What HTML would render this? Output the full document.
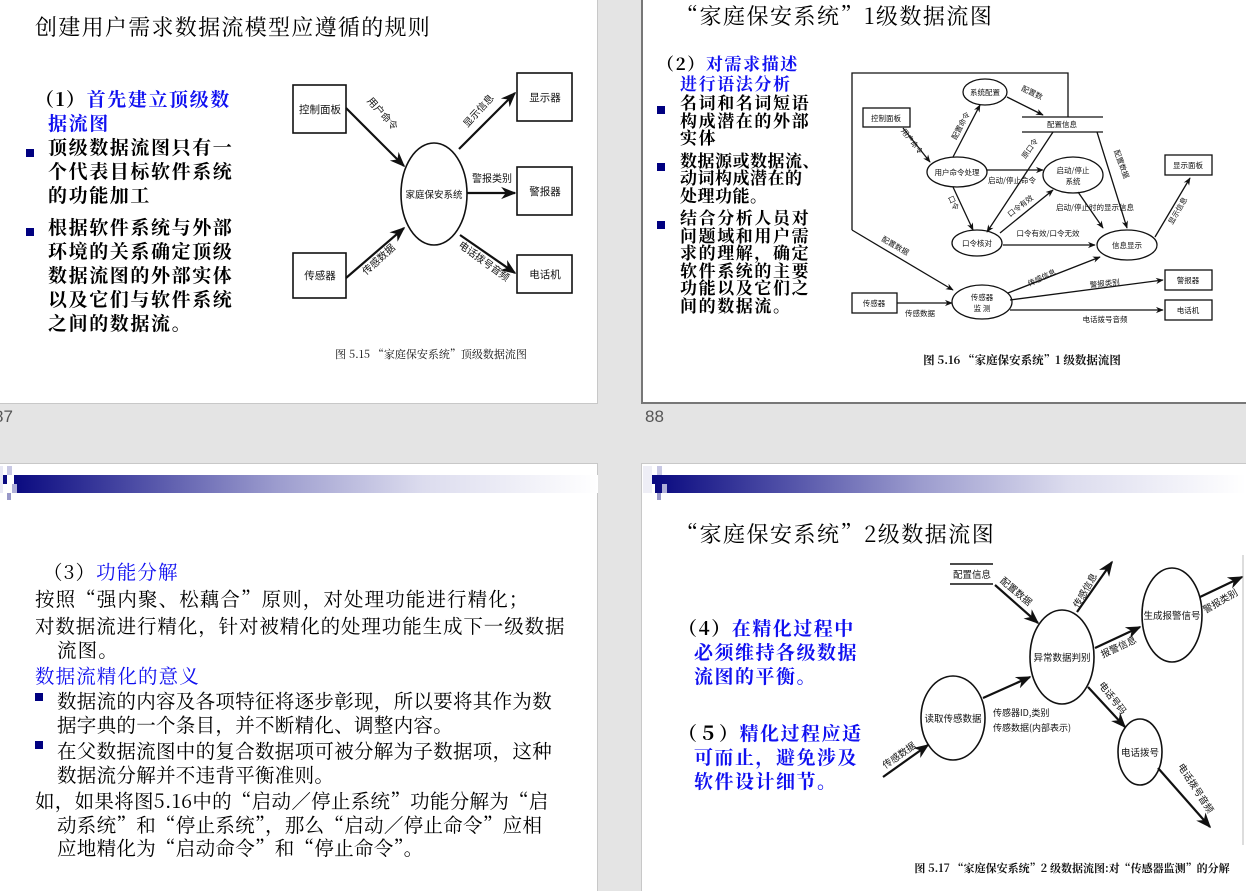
<!DOCTYPE html>
<html><head><meta charset="utf-8">
<style>
*{margin:0;padding:0;box-sizing:border-box}
body{width:1246px;height:891px;background:#e4e4e4;position:relative;overflow:hidden;font-family:"Noto Serif CJK SC","Liberation Serif",serif;}
.s{position:absolute;background:#fff}
.t{position:absolute;white-space:nowrap;color:#000}
.b{color:#1010f0}
.bul{position:absolute;width:8px;height:8px;background:#000080}
svg{position:absolute;left:0;top:0}
svg text{font-family:"Noto Sans CJK SC","WenQuanYi Zen Hei",sans-serif;fill:#111}
svg text.cap{font-family:"Noto Serif CJK SC","Liberation Serif",serif}
</style></head><body>

<div class="s" style="left:0;top:0;width:598px;height:404px;border-right:1px solid #c8c8c8;border-bottom:1px solid #c8c8c8"></div>
<div class="s" style="left:641px;top:0;width:605px;height:404px;border-left:2px solid #777;border-bottom:2px solid #777"></div>
<div class="s" style="left:0;top:463px;width:598px;height:428px;border-right:1px solid #c8c8c8;border-top:1px solid #c8c8c8"></div>
<div class="s" style="left:641px;top:463px;width:605px;height:428px;border-left:1px solid #c8c8c8;border-top:1px solid #c8c8c8"></div>

<div class="t" style="left:-6px;top:407px;font-family:'Liberation Sans',sans-serif;font-size:17px;color:#555">87</div>
<div class="t" style="left:645px;top:407px;font-family:'Liberation Sans',sans-serif;font-size:17px;color:#555">88</div>

<div style="position:absolute;left:14px;top:475px;width:584px;height:18px;background:linear-gradient(90deg,#0a0a80,#4a4aa4 20%,#9c9cce 45%,#dcdcee 70%,#fff)"></div>
<div style="position:absolute;left:3px;top:475px;width:4px;height:9px;background:#0a0a80"></div>
<div style="position:absolute;left:7px;top:466px;width:5px;height:9px;background:#c8c8e4"></div>
<div style="position:absolute;left:12px;top:484px;width:5px;height:9px;background:#b0b0d8"></div>
<div style="position:absolute;left:7px;top:493px;width:4px;height:7px;background:#9898c8"></div>
<div style="position:absolute;left:0;top:466px;width:3px;height:27px;background:#e8e8f4"></div>

<div style="position:absolute;left:655px;top:475px;width:591px;height:18px;background:linear-gradient(90deg,#0a0a80,#4a4aa4 20%,#9c9cce 45%,#dcdcee 70%,#fff)"></div>
<div style="position:absolute;left:652px;top:475px;width:5px;height:9px;background:#0a0a80"></div>
<div style="position:absolute;left:657px;top:466px;width:5px;height:9px;background:#c8c8e4"></div>
<div style="position:absolute;left:662px;top:484px;width:5px;height:9px;background:#b0b0d8"></div>
<div style="position:absolute;left:657px;top:493px;width:4px;height:7px;background:#9898c8"></div>
<div style="position:absolute;left:643px;top:466px;width:9px;height:27px;background:#eeeef6"></div>

<!-- top-left text -->
<div class="t" style="left:35px;top:12px;font-size:22px;letter-spacing:1.3px;line-height:30px">创建用户需求数据流模型应遵循的规则</div>
<div style="position:absolute;left:35px;top:87px;font-size:19px;font-weight:bold;line-height:24px;letter-spacing:1.6px;width:230px">
<div>（1）<span class="b">首先建立顶级数</span></div>
<div style="padding-left:13px" class="b">据流图</div>
<div style="padding-left:13px">顶级数据流图只有一<br>个代表目标软件系统<br>的功能加工</div>
<div style="padding-left:13px;margin-top:8px">根据软件系统与外部<br>环境的关系确定顶级<br>数据流图的外部实体<br>以及它们与软件系统<br>之间的数据流。</div>
</div>
<div class="bul" style="left:26px;top:149px"></div>
<div class="bul" style="left:26px;top:228px"></div>

<!-- top-right text -->
<div class="t" style="left:676px;top:1px;font-size:22px;letter-spacing:1.5px;line-height:30px">“家庭保安系统”1级数据流图</div>
<div style="position:absolute;left:657px;top:53px;font-size:17px;font-weight:bold;line-height:17.5px;letter-spacing:1.6px;width:190px">
<div style="line-height:20px">（2）<span class="b">对需求描述</span></div>
<div class="b" style="padding-left:23px;line-height:20px">进行语法分析</div>
<div style="padding-left:23px">名词和名词短语<br>构成潜在的外部<br>实体</div>
<div style="padding-left:23px;margin-top:5px;letter-spacing:0.5px">数据源或数据流、<br>动词构成潜在的<br>处理功能。</div>
<div style="padding-left:23px;margin-top:5px">结合分析人员对<br>问题域和用户需<br>求的理解，确定<br>软件系统的主要<br>功能以及它们之<br>间的数据流。</div>
</div>
<div class="bul" style="left:657px;top:106px"></div>
<div class="bul" style="left:657px;top:163px"></div>
<div class="bul" style="left:657px;top:221px"></div>

<!-- bottom-left text -->
<div style="position:absolute;left:35px;top:559px;font-size:19.5px;line-height:25px;width:580px;letter-spacing:1.1px">
<div style="padding-left:8px">（3）<span class="b">功能分解</span></div>
<div style="margin-top:2px">按照“强内聚、松藕合”原则，对处理功能进行精化；</div>
<div style="margin-top:2px;letter-spacing:0.9px">对数据流进行精化，针对被精化的处理功能生成下一级数据</div>
<div style="padding-left:22px;line-height:22px">流图。</div>
<div class="b" style="margin-top:3px">数据流精化的意义</div>
<div style="padding-left:22px;letter-spacing:0.3px">数据流的内容及各项特征将逐步彰现，所以要将其作为数</div>
<div style="padding-left:22px;line-height:23px;letter-spacing:0.3px">据字典的一个条目，并不断精化、调整内容。</div>
<div style="padding-left:22px;margin-top:2px;letter-spacing:0.3px">在父数据流图中的复合数据项可被分解为子数据项，这种</div>
<div style="padding-left:22px;line-height:23px;letter-spacing:0.3px">数据流分解并不违背平衡准则。</div>
<div style="margin-top:2px;letter-spacing:0.3px">如，如果将图5.16中的“启动／停止系统”功能分解为“启</div>
<div style="padding-left:22px;line-height:23px;letter-spacing:0.3px">动系统”和“停止系统”，那么“启动／停止命令”应相</div>
<div style="padding-left:22px;line-height:23px;letter-spacing:0.3px">应地精化为“启动命令”和“停止命令”。</div>
</div>
<div class="bul" style="left:35px;top:693px"></div>
<div class="bul" style="left:35px;top:741px"></div>

<!-- bottom-right text -->
<div class="t" style="left:676px;top:519px;font-size:22px;letter-spacing:1.5px;line-height:30px">“家庭保安系统”2级数据流图</div>
<div style="position:absolute;left:678px;top:616px;font-size:19px;font-weight:bold;line-height:24px;letter-spacing:1.5px">
<div>（4）<span class="b">在精化过程中</span></div>
<div class="b" style="padding-left:16px">必须维持各级数据<br>流图的平衡。</div>
<div style="margin-top:33px">（５）<span class="b">精化过程应适</span></div>
<div class="b" style="padding-left:16px">可而止，避免涉及<br>软件设计细节。</div>
</div>

<svg width="1246" height="891" viewBox="0 0 1246 891">
<defs>
<marker id="a" viewBox="0 0 10 10" refX="9" refY="5" markerWidth="7" markerHeight="7" orient="auto"><path d="M0,1 L10,5 L0,9 L3,5z" fill="#111"/></marker>
<marker id="m" viewBox="0 0 10 10" refX="9" refY="5" markerWidth="6" markerHeight="6" orient="auto"><path d="M0,1 L10,5 L0,9 L3,5z" fill="#111"/></marker>
</defs>

<g stroke="#111" fill="none" stroke-width="1.6">
<rect x="293" y="85" width="53" height="48"/>
<rect x="293" y="253" width="53" height="45"/>
<rect x="517" y="73" width="55" height="48"/>
<rect x="517" y="167" width="55" height="48"/>
<rect x="517" y="255" width="55" height="38"/>
<ellipse cx="434" cy="194" rx="33" ry="51"/>
<g stroke-width="2.2" marker-end="url(#a)">
<line x1="346" y1="108" x2="404" y2="166"/>
<line x1="346" y1="278" x2="404" y2="228"/>
<line x1="459" y1="149" x2="515" y2="93"/>
<line x1="467" y1="193" x2="515" y2="193"/>
<line x1="460" y1="235" x2="515" y2="273"/>
</g></g>
<g font-size="10.5" text-anchor="middle">
<text x="320" y="113">控制面板</text>
<text x="320" y="279">传感器</text>
<text x="545" y="101">显示器</text>
<text x="545" y="195">警报器</text>
<text x="545" y="278">电话机</text>
<text x="434" y="198" font-size="9.5">家庭保安系统</text>
<text transform="translate(380,116) rotate(48)" font-size="10">用户命令</text>
<text transform="translate(381,262) rotate(-42)" font-size="10">传感数据</text>
<text transform="translate(481,113) rotate(-48)" font-size="10">显示信息</text>
<text x="492" y="182" font-size="10">警报类别</text>
<text transform="translate(482,264) rotate(36)" font-size="10">电话拨号音频</text>
<text class="cap" x="431" y="358" font-size="11">图 5.15 “家庭保安系统”顶级数据流图</text>
</g>

<g stroke="#111" fill="none" stroke-width="1.3">
<rect x="863" y="108" width="47" height="19"/>
<rect x="1165" y="155" width="47" height="20"/>
<rect x="1165" y="270" width="47" height="20"/>
<rect x="1165" y="300" width="47" height="20"/>
<rect x="852" y="293" width="45" height="20"/>
<ellipse cx="985" cy="92" rx="22" ry="13"/>
<ellipse cx="957" cy="172" rx="30" ry="15"/>
<ellipse cx="1073" cy="175" rx="30" ry="18"/>
<ellipse cx="977" cy="243" rx="25" ry="13"/>
<ellipse cx="1127" cy="245" rx="30" ry="15"/>
<ellipse cx="982" cy="302" rx="30" ry="17"/>
<line x1="1022" y1="117" x2="1103" y2="117"/>
<line x1="1022" y1="132" x2="1103" y2="132"/>
<polyline points="1068,117 1068,73 852,73 852,230"/>
<g marker-end="url(#m)">
<line x1="852" y1="230" x2="953" y2="290"/>
<line x1="903" y1="128" x2="930" y2="162"/>
<line x1="953" y1="157" x2="980" y2="105"/>
<line x1="1007" y1="97" x2="1043" y2="115"/>
<line x1="987" y1="170" x2="1043" y2="170"/>
<line x1="1053" y1="132" x2="987" y2="232"/>
<line x1="953" y1="187" x2="973" y2="230"/>
<line x1="1000" y1="233" x2="1053" y2="190"/>
<line x1="1003" y1="245" x2="1095" y2="245"/>
<line x1="1078" y1="192" x2="1103" y2="228"/>
<line x1="1097" y1="132" x2="1127" y2="228"/>
<line x1="1155" y1="237" x2="1190" y2="178"/>
<line x1="897" y1="303" x2="952" y2="303"/>
<line x1="1008" y1="293" x2="1100" y2="257"/>
<line x1="1010" y1="300" x2="1163" y2="280"/>
<line x1="1010" y1="310" x2="1163" y2="310"/>
</g></g>
<g font-size="7.5" text-anchor="middle">
<text x="886" y="121">控制面板</text>
<text x="1188" y="168">显示面板</text>
<text x="1188" y="283">警报器</text>
<text x="1188" y="313">电话机</text>
<text x="874" y="306">传感器</text>
<text x="985" y="95">系统配置</text>
<text x="1062" y="127">配置信息</text>
<text x="957" y="175">用户命令处理</text>
<text x="1073" y="173">启动/停止</text>
<text x="1073" y="184">系统</text>
<text x="977" y="246">口令核对</text>
<text x="1127" y="248">信息显示</text>
<text x="982" y="300">传感器</text>
<text x="982" y="311">监 测</text>
<text transform="translate(910,143) rotate(52)">用户命令</text>
<text transform="translate(963,127) rotate(-62)">配置命令</text>
<text transform="translate(1031,95) rotate(25)">配置数</text>
<text x="1012" y="183">启动/停止命令</text>
<text transform="translate(1032,150) rotate(-55)">原口令</text>
<text transform="translate(951,204) rotate(65)">口令</text>
<text transform="translate(1022,208) rotate(-38)">口令有效</text>
<text x="1048" y="236">口令有效/口令无效</text>
<text x="1095" y="210">启动/停止时的显示信息</text>
<text transform="translate(1119,165) rotate(70)">配置数据</text>
<text transform="translate(1180,212) rotate(-60)">显示信息</text>
<text transform="translate(894,248) rotate(30)">配置数据</text>
<text x="920" y="316">传感数据</text>
<text transform="translate(1043,280) rotate(-25)">传感信息</text>
<text x="1105" y="286" transform="rotate(-6 1105 286)">警报类别</text>
<text x="1105" y="322">电话拨号音频</text>
<text class="cap" x="1022" y="364" font-size="11.5" font-weight="bold">图 5.16 “家庭保安系统”1 级数据流图</text>
</g>

<line x1="1243" y1="555" x2="1243" y2="845" stroke="#bbb" stroke-width="1"/>
<g stroke="#111" fill="none" stroke-width="1.6">
<line x1="950" y1="564" x2="993" y2="564"/>
<line x1="950" y1="584" x2="993" y2="584"/>
<ellipse cx="1062" cy="657" rx="32" ry="47"/>
<ellipse cx="1172" cy="615" rx="30" ry="47"/>
<ellipse cx="953" cy="718" rx="32" ry="42"/>
<ellipse cx="1140" cy="752" rx="22" ry="33"/>
<g stroke-width="2.2" marker-end="url(#a)">
<line x1="995" y1="585" x2="1038" y2="623"/>
<line x1="1077" y1="612" x2="1112" y2="562"/>
<line x1="1095" y1="648" x2="1140" y2="627"/>
<line x1="1200" y1="597" x2="1242" y2="577"/>
<line x1="883" y1="777" x2="928" y2="745"/>
<line x1="983" y1="698" x2="1030" y2="677"/>
<line x1="1088" y1="687" x2="1125" y2="727"/>
<line x1="1158" y1="768" x2="1210" y2="827"/>
</g></g>
<g font-size="9.5" text-anchor="middle">
<text x="972" y="578">配置信息</text>
<text x="1062" y="661">异常数据判别</text>
<text x="1172" y="619">生成报警信号</text>
<text x="953" y="722">读取传感数据</text>
<text x="1140" y="756">电话拨号</text>
<text transform="translate(1014,594) rotate(40)">配置数据</text>
<text transform="translate(1088,592) rotate(-60)">传感信息</text>
<text transform="translate(1120,650) rotate(-25)">报警信息</text>
<text transform="translate(1222,604) rotate(-30)">警报类别</text>
<text transform="translate(901,758) rotate(-35)">传感数据</text>
<text transform="translate(1110,700) rotate(52)">电话号码</text>
<text transform="translate(1193,790) rotate(57)">电话拨号音频</text>
<text x="993" y="716" text-anchor="start" font-size="9">传感器ID,类别</text>
<text x="993" y="731" text-anchor="start" font-size="9">传感数据(内部表示)</text>
<text class="cap" x="1072" y="872" font-size="11" font-weight="bold">图 5.17 “家庭保安系统”2 级数据流图:对“传感器监测”的分解</text>
</g>
</svg>
</body></html>
